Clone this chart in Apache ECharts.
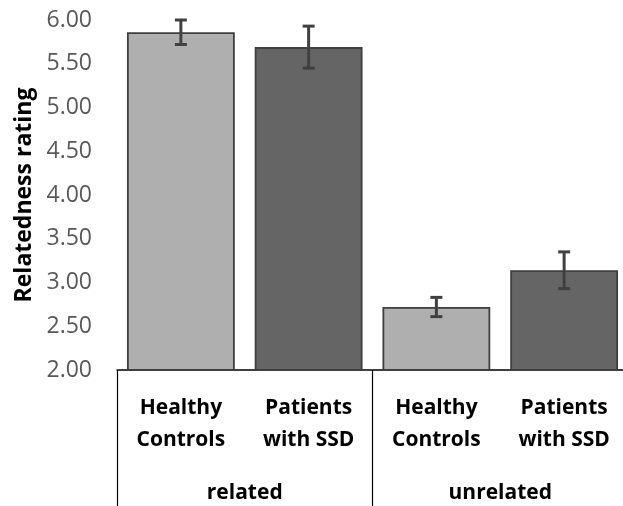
<!DOCTYPE html>
<html>
<head>
<meta charset="utf-8">
<script src="https://cdn.jsdelivr.net/npm/echarts@6/dist/echarts.min.js"></script>
<style>html,body{margin:0;padding:0;background:#fff;}#c{width:623px;height:506px;}</style>
</head>
<body>
<div id="c"></div>
<script>
// Data
var conditions = ['related', 'unrelated'];
var groups = ['Healthy\nControls', 'Patients\nwith SSD'];
var healthyMeans = [5.86, 2.72];
var healthyErrors = [0.14, 0.11];
var patientMeans = [5.69, 3.14];
var patientErrors = [0.24, 0.21];
var yTicks = ['2.00','2.50','3.00','3.50','4.00','4.50','5.00','5.50','6.00'];

var groupColors = ['#afafaf', '#656565'];
var FONT = '"Open Sans", "Noto Sans", sans-serif';

// build flat category list (condition x group)
var cats = [], barData = [], errData = [];
conditions.forEach(function (cond, ci) {
  [healthyMeans, patientMeans].forEach(function (means, gi) {
    var errs = gi === 0 ? healthyErrors : patientErrors;
    var idx = cats.length;
    cats.push(cond + '|' + groups[gi]);
    barData.push({ value: means[ci], itemStyle: { color: groupColors[gi] } });
    errData.push([idx, means[ci] - errs[ci], means[ci] + errs[ci]]);
  });
});

var chart = echarts.init(document.getElementById('c'));
chart.setOption({
  animation: false,
  grid: { left: 117, top: 20, width: 511, height: 350, outerBoundsMode: 'none', containLabel: false },
  xAxis: [{
    type: 'category',
    data: cats,
    axisLine: { show: true, lineStyle: { color: '#000', width: 1.5 } },
    axisTick: { show: false },
    axisLabel: {
      interval: 0, margin: 22, lineHeight: 32,
      color: '#000', fontFamily: FONT, fontWeight: 'bold', fontSize: 21,
      formatter: function (v) { return v.split('|')[1]; }
    }
  }, {
    type: 'category',
    position: 'bottom',
    data: conditions,
    axisLine: { show: false },
    axisTick: { show: true, interval: 0, length: 140, lineStyle: { color: '#000', width: 1.2 } },
    axisLabel: {
      interval: 0, margin: 113,
      color: '#000', fontFamily: FONT, fontWeight: 'bold', fontSize: 21
    }
  }],
  yAxis: {
    type: 'value', min: 2, max: 6, interval: 0.5,
    name: 'Relatedness rating', nameLocation: 'middle', nameGap: 81,
    nameTextStyle: { color: '#000', fontFamily: FONT, fontWeight: 'bold', fontSize: 23 },
    axisLine: { show: false }, axisTick: { show: false }, splitLine: { show: false },
    axisLabel: {
      margin: 25, color: '#595959', fontFamily: FONT, fontSize: 23,
      formatter: function (v) { return yTicks[Math.round((v - 2) / 0.5)]; }
    }
  },
  series: [{
    type: 'bar',
    data: barData,
    barCategoryGap: '15.6%',
    itemStyle: { borderColor: '#3f3f3f', borderWidth: 1.8 }
  }, {
    type: 'custom',
    data: errData,
    z: 10,
    renderItem: function (params, api) {
      var x = api.value(0);
      var lo = api.coord([x, api.value(1)]);
      var hi = api.coord([x, api.value(2)]);
      var hw = 6;
      var st = { stroke: '#404040', lineWidth: 3 };
      return {
        type: 'group',
        children: [
          { type: 'line', shape: { x1: lo[0], y1: lo[1], x2: hi[0], y2: hi[1] }, style: st },
          { type: 'line', shape: { x1: lo[0] - hw, y1: lo[1], x2: lo[0] + hw, y2: lo[1] }, style: st },
          { type: 'line', shape: { x1: hi[0] - hw, y1: hi[1], x2: hi[0] + hw, y2: hi[1] }, style: st }
        ]
      };
    }
  }]
});
</script>
</body>
</html>
